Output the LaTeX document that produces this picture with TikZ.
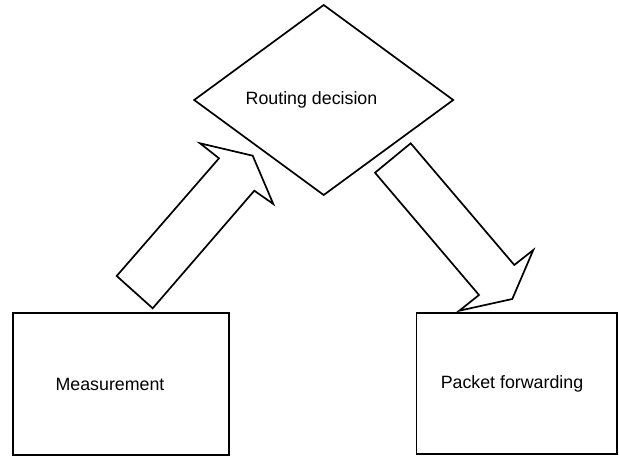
\documentclass[tikz,border=0pt]{standalone}
\usepackage{fontspec}
\setmainfont{Liberation Sans}
\usetikzlibrary{shapes.geometric}
\begin{document}
\begin{tikzpicture}[x=1pt,y=-1pt,line width=1.7pt,line join=miter,
  boxshape/.style={draw,rectangle,inner sep=0pt,outer sep=0pt,anchor=north west},
  lbl/.style={font=\fontsize{17.8}{20}\selectfont,inner sep=0pt},
  blockarrow/.style={draw,line width=1.7pt,line join=miter}]
\useasboundingbox (0,0) rectangle (619,457);
% boxes
\node[boxshape,minimum width=215.4pt,minimum height=142.3pt] (meas) at (13.3,312.7) {};
\node[boxshape,minimum width=200.8pt,minimum height=141.3pt] (fwd) at (416.5,312.7) {};
% diamond
\node[draw,diamond,shape aspect=1.36,minimum width=259pt,minimum height=190pt,inner sep=0pt,outer sep=0pt] (dec) at (323.7,100) {};
% labels
\node[lbl] (measlbl) at (110,384) {Measurement};
\node[lbl] (fwdlbl) at (512,383.5) {Packet forwarding};
\node[lbl] (declbl) at (311.5,100) {Routing decision};
% block arrows
\draw[blockarrow] (152.7,308.3) -- (116.7,276) -- (219,158.3) -- (200,143.3)
  -- (252.7,155.7) -- (273.3,204) -- (254.3,190.7) -- cycle;
\draw[blockarrow] (375,172.7) -- (410.7,143.3) -- (514.3,265) -- (533.3,250)
  -- (512.3,299) -- (459.3,310.7) -- (479,295) -- cycle;
\end{tikzpicture}
\end{document}
